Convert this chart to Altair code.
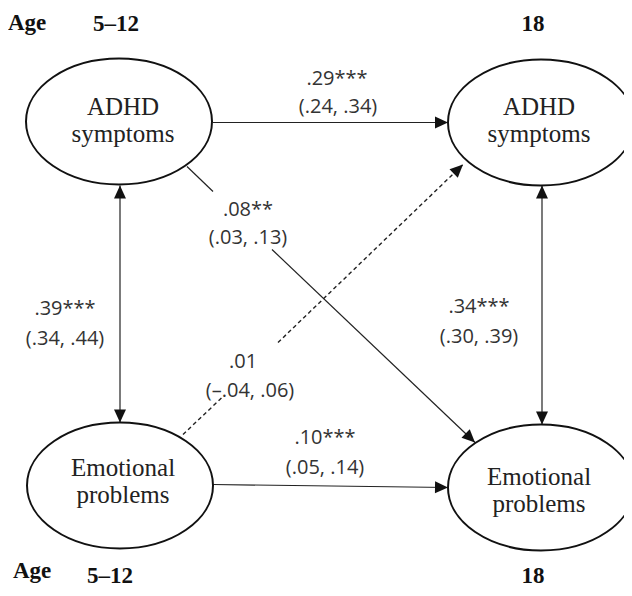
import math
import altair as alt
import pandas as pd

# ---- nodes (ellipses) ----
node_x = [119, 541, 120, 541]
node_y = [122, 123, 486, 488]
node_line1 = ["ADHD", "ADHD", "Emotional", "Emotional"]
node_line2 = ["symptoms", "symptoms", "problems", "problems"]
node_text_x = [123, 539, 123, 539]
node_text_y1 = [115, 115, 476, 485]
node_text_y2 = [142, 142, 503, 512]

# ---- path segments ----
seg_x1 = [213, 213, 120, 542, 187, 272]
seg_y1 = [123, 485, 186, 186, 167, 250]
seg_x2 = [448, 448, 120, 542, 213, 475]
seg_y2 = [123, 488, 423, 425, 192, 443]

dash_x1 = [183, 278]
dash_y1 = [435, 343]
dash_x2 = [222, 463]
dash_y2 = [398, 165]

# ---- arrow heads (tip, and the point the path comes from) ----
head_x = [448, 448, 120, 120, 542, 542, 475, 463]
head_y = [123, 488, 186, 423, 186, 425, 443, 165]
head_from_x = [213, 213, 120, 120, 542, 542, 187, 183]
head_from_y = [123, 485, 423, 186, 425, 186, 167, 435]

# ---- path coefficients ----
coef_text = [".29***", ".08**", ".39***", ".34***", ".01", ".10***"]
ci_text = ["(.24, .34)", "(.03, .13)", "(.34, .44)", "(.30, .39)", "(\u2013.04, .06)", "(.05, .14)"]
coef_x = [337, 248, 65, 479, 243, 325]
coef_y = [85, 216, 315, 313, 368, 444]
ci_x = [338, 248, 65, 479, 250, 325]
ci_y = [113, 244, 345, 343, 397, 474]

# ---- age headers ----
age_label = ["Age", "Age"]
age_x = [8, 13]
age_y = [30, 578]
wave_label = ["5\u201312", "18", "5\u201312", "18"]
wave_x = [116, 533, 110, 533]
wave_y = [31, 31, 583, 583]

# ---------------- build tables ----------------
nodes = pd.DataFrame({"x": node_x, "y": node_y})
node_text = pd.DataFrame({
    "x": node_text_x + node_text_x,
    "y": node_text_y1 + node_text_y2,
    "t": node_line1 + node_line2,
})
segs = pd.DataFrame({"x": seg_x1, "y": seg_y1, "x2": seg_x2, "y2": seg_y2})
dashes = pd.DataFrame({"x": dash_x1, "y": dash_y1, "x2": dash_x2, "y2": dash_y2})
angles = []
for tx, ty, fx, fy in zip(head_x, head_y, head_from_x, head_from_y):
    a = math.degrees(math.atan2(tx - fx, -(ty - fy))) % 360
    angles.append(a)
heads = pd.DataFrame({"x": head_x, "y": head_y, "angle": angles})
labels = pd.DataFrame({
    "x": coef_x + ci_x,
    "y": coef_y + ci_y,
    "t": coef_text + ci_text,
})
ages = pd.DataFrame({"x": age_x, "y": age_y, "t": age_label})
waves = pd.DataFrame({"x": wave_x, "y": wave_y, "t": wave_label})

xs = alt.Scale(domain=[8, 624], nice=False, zero=False)
ys = alt.Scale(domain=[8.5, 588.5], nice=False, zero=False, reverse=True)
X = alt.X("x:Q", scale=xs, axis=None)
Y = alt.Y("y:Q", scale=ys, axis=None)

RX, RY = 93.0, 63.0
k = RY / RX
c = 0.5523
ellipse_path = (
    f"M-1,0 C-1,{-c*k:.4f} {-c:.4f},{-k:.4f} 0,{-k:.4f} "
    f"C{c:.4f},{-k:.4f} 1,{-c*k:.4f} 1,0 "
    f"C1,{c*k:.4f} {c:.4f},{k:.4f} 0,{k:.4f} "
    f"C{-c:.4f},{k:.4f} -1,{c*k:.4f} -1,0 Z"
)
arrow_path = "M0,0 L0.46,1 L-0.46,1 Z"

rules = alt.Chart(segs).mark_rule(color="#222", strokeWidth=1.2).encode(
    x=X, y=Y, x2="x2:Q", y2="y2:Q")
drules = alt.Chart(dashes).mark_rule(color="#222", strokeWidth=1.4, strokeDash=[4, 3]).encode(
    x=X, y=Y, x2="x2:Q", y2="y2:Q")
ell = alt.Chart(nodes).mark_point(
    shape=ellipse_path, size=(2 * RX) ** 2, filled=True, fill="white",
    stroke="#111", strokeWidth=2, opacity=1).encode(x=X, y=Y)
arr = alt.Chart(heads).mark_point(
    shape=arrow_path, size=26 ** 2, filled=True, color="#111", opacity=1,
    strokeWidth=0).encode(x=X, y=Y, angle=alt.Angle("angle:Q", scale=None))
ntext = alt.Chart(node_text).mark_text(
    font="Liberation Serif", fontSize=25, color="#222", align="center",
    baseline="alphabetic").encode(x=X, y=Y, text="t:N")
ltext = alt.Chart(labels).mark_text(
    font="Open Sans", fontSize=20, color="#333", align="center",
    baseline="alphabetic").encode(x=X, y=Y, text="t:N")
atext = alt.Chart(ages).mark_text(
    font="Liberation Serif", fontSize=23, fontWeight="bold", color="#111",
    align="left", baseline="alphabetic").encode(x=X, y=Y, text="t:N")
wtext = alt.Chart(waves).mark_text(
    font="Liberation Serif", fontSize=23, fontWeight="bold", color="#111",
    align="center", baseline="alphabetic").encode(x=X, y=Y, text="t:N")

chart = alt.layer(rules, drules, ell, arr, ntext, ltext, atext, wtext).properties(
    width=616, height=580, padding=0,
    autosize=alt.AutoSizeParams(type="none"),
    background="white",
).configure_view(stroke=None)

chart.save("out.html", embed_options={"renderer": "svg", "actions": False})
